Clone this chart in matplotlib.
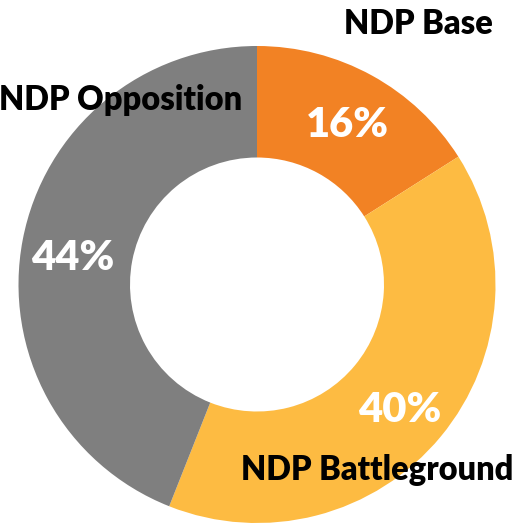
import matplotlib
matplotlib.use("Agg")
import matplotlib.pyplot as plt

categories = ["NDP Base", "NDP Battleground", "NDP Opposition"]
values = [16, 40, 44]
pct_labels = ["16%", "40%", "44%"]
colors = ["#F28224", "#FDBB42", "#7F7F7F"]

W, H = 520, 526
fig = plt.figure(figsize=(W / 100, H / 100), dpi=100)
ax = fig.add_axes([0, 0, 1, 1])

cx, cy_px, R = 257, 284.5, 238.5
rin = 127
ax.pie(values, colors=colors, startangle=90, counterclock=False,
       center=(cx, H - cy_px), radius=R,
       wedgeprops=dict(width=R - rin, linewidth=0), frame=True)
ax.set_xlim(0, W)
ax.set_ylim(0, H)
ax.set_aspect("equal")
ax.axis("off")

font = ["Lato", "DejaVu Sans"]
cat_pos = {"NDP Base": (418, 34), "NDP Battleground": (377, 480), "NDP Opposition": (121, 110)}
pct_pos = {"16%": (347, 137), "40%": (400, 422), "44%": (73, 270)}
for c in categories:
    x, yb = cat_pos[c]
    ax.text(x, H - yb, c, ha="center", va="baseline", fontsize=23.5,
            fontweight="heavy", color="black", family=font)
for p in pct_labels:
    x, yb = pct_pos[p]
    ax.text(x, H - yb, p, ha="center", va="baseline", fontsize=30,
            fontweight="heavy", color="white", family=font)

fig.savefig("out.png", dpi=100)
